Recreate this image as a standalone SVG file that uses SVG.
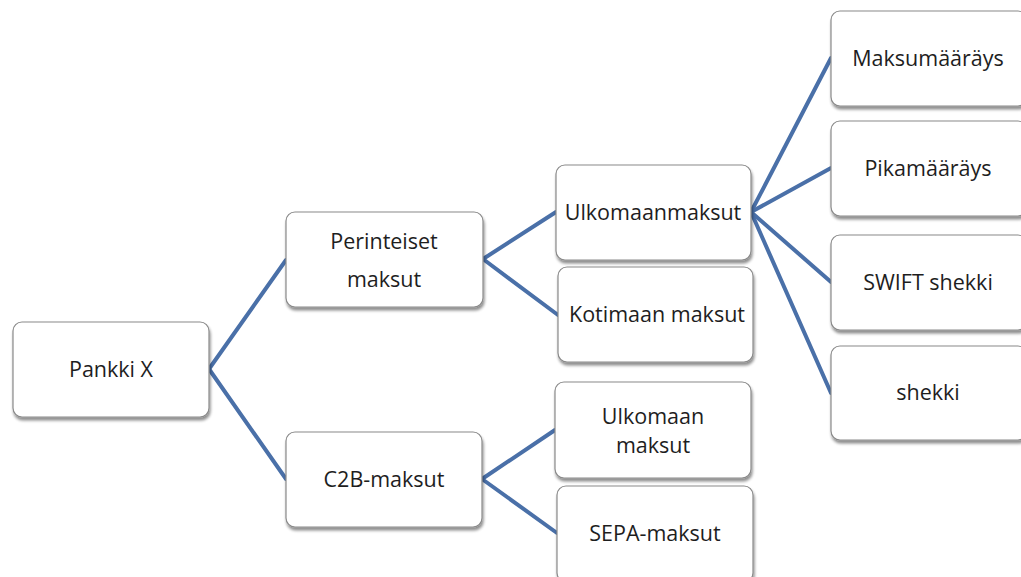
<svg xmlns="http://www.w3.org/2000/svg" width="1021" height="577" viewBox="0 0 1021 577">
<defs>
<filter id="sh" x="-10%" y="-10%" width="125%" height="130%">
<feGaussianBlur in="SourceAlpha" stdDeviation="1.5"/>
<feOffset dx="1" dy="3" result="b"/>
<feComponentTransfer><feFuncA type="linear" slope="0.45"/></feComponentTransfer>
<feMerge><feMergeNode/><feMergeNode in="SourceGraphic"/></feMerge>
</filter>
</defs>
<style>
.box{fill:#ffffff;stroke:#8a8a8a;stroke-width:1.2;filter:url(#sh)}
.t{font-family:"Open Sans","Noto Sans",sans-serif;font-size:21.5px;fill:#1e1e1e;text-anchor:middle;dominant-baseline:central}
.c{stroke:#4a70a8;stroke-width:4;fill:none;stroke-linecap:round}
</style>
<rect width="1021" height="577" fill="#ffffff"/>
<g id="connectors">
<line class="c" x1="209" y1="369" x2="286" y2="260"/>
<line class="c" x1="209" y1="369" x2="286" y2="479"/>
<line class="c" x1="483" y1="259" x2="556" y2="212"/>
<line class="c" x1="483" y1="259" x2="558" y2="315"/>
<line class="c" x1="751" y1="212" x2="831" y2="58"/>
<line class="c" x1="751" y1="212" x2="831" y2="168"/>
<line class="c" x1="751" y1="212" x2="831" y2="282"/>
<line class="c" x1="751" y1="212" x2="831" y2="393"/>
<line class="c" x1="482" y1="479" x2="555" y2="430"/>
<line class="c" x1="482" y1="479" x2="557" y2="533"/>
</g>
<g id="pankki"><rect class="box" x="13" y="322" width="196" height="95" rx="9"/><text class="t" x="111" y="368">Pankki X</text></g>
<g id="perinteiset"><rect class="box" x="286" y="212" width="197" height="95" rx="9"/><text class="t" x="384" y="240">Perinteiset</text><text class="t" x="384" y="278">maksut</text></g>
<g id="c2b"><rect class="box" x="286" y="432" width="196" height="95" rx="9"/><text class="t" x="384" y="478">C2B-maksut</text></g>
<g id="ulkomaanmaksut"><rect class="box" x="556" y="165" width="195" height="95" rx="9"/><text class="t" x="653" y="211">Ulkomaanmaksut</text></g>
<g id="kotimaan"><rect class="box" x="558" y="267" width="195" height="95" rx="9"/><text class="t" x="657" y="313">Kotimaan maksut</text></g>
<g id="ulkomaan-c2b"><rect class="box" x="555" y="382" width="196" height="96" rx="9"/><text class="t" x="653" y="415">Ulkomaan</text><text class="t" x="653" y="444">maksut</text></g>
<g id="sepa"><rect class="box" x="557" y="486" width="196" height="96" rx="9"/><text class="t" x="655" y="532">SEPA-maksut</text></g>
<g id="maksumaarays"><rect class="box" x="831" y="11" width="196" height="95" rx="9"/><text class="t" x="928" y="57">Maksumääräys</text></g>
<g id="pikamaarays"><rect class="box" x="831" y="121" width="196" height="95" rx="9"/><text class="t" x="928" y="167">Pikamääräys</text></g>
<g id="swift"><rect class="box" x="831" y="235" width="196" height="95" rx="9"/><text class="t" x="928" y="281">SWIFT shekki</text></g>
<g id="shekki"><rect class="box" x="831" y="346" width="196" height="94" rx="9"/><text class="t" x="928" y="391">shekki</text></g>
</svg>
